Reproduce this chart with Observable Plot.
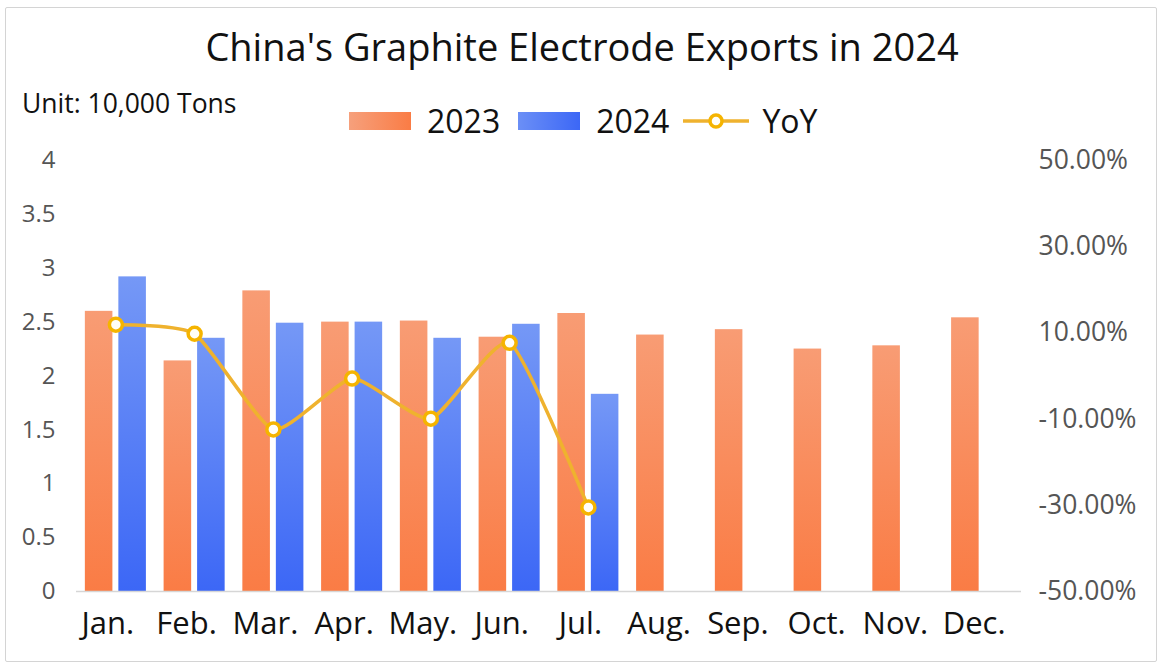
<!DOCTYPE html>
<html>
<head>
<meta charset="utf-8">
<script src="https://cdn.jsdelivr.net/npm/d3@7"></script>
<script src="https://cdn.jsdelivr.net/npm/@observablehq/plot@0.6"></script>
<style>
  html, body { margin: 0; padding: 0; background: #fff; }
  body { font-family: "Open Sans", "Noto Sans", sans-serif; }
  #frame { position: relative; width: 1164px; height: 671px; overflow: hidden; background: #fff; }
  #border { position: absolute; left: 5px; top: 7px; width: 1152px; height: 655px; border: 1.5px solid #d4d4d4; box-sizing: border-box; border-radius: 2px; }
  #title { position: absolute; left: 0; width: 1164px; top: 21px; text-align: center; font-size: 38px; color: #111; line-height: 50px; }
  #unit { position: absolute; left: 22px; top: 86px; font-size: 26.5px; color: #111; line-height: 34px; }
  #legend { position: absolute; left: 349px; top: 100px; display: flex; align-items: center; font-size: 32px; color: #111; line-height: 42px; }
  .sw { width: 62px; height: 18px; }
  .lab { margin-left: 16px; margin-right: 18px; }
  #chart { position: absolute; left: 0; top: 140px; }
</style>
</head>
<body>
<div id="frame">
  <div id="border"></div>
  <div id="title">China's Graphite Electrode Exports in 2024</div>
  <div id="unit">Unit: 10,000 Tons</div>
  <div id="legend"></div>
  <div id="chart"></div>
</div>
<script>
// ---- data ----
const months = ["Jan.", "Feb.", "Mar.", "Apr.", "May.", "Jun.", "Jul.", "Aug.", "Sep.", "Oct.", "Nov.", "Dec."];
const exports2023 = [2.60, 2.14, 2.79, 2.50, 2.51, 2.36, 2.58, 2.38, 2.43, 2.25, 2.28, 2.54];
const exports2024 = [2.92, 2.35, 2.49, 2.50, 2.35, 2.48, 1.83];
const yoyPct = [11.9, 9.8, -12.4, -0.6, -9.9, 7.7, -30.5];
const leftTicks = [0, 0.5, 1, 1.5, 2, 2.5, 3, 3.5, 4];
const rightTickPct = [-50, -30, -10, 10, 30, 50];
const seriesNames = ["2023", "2024", "YoY"];

// ---- build tables ----
const rows2023 = exports2023.map((v, i) => ({month: months[i], value: v}));
const rows2024 = exports2024.map((v, i) => ({month: months[i], value: v}));
const rowsYoY = yoyPct.map((v, i) => ({month: months[i], pct: v}));

// map right axis (-50%..50%) onto left scale (0..4)
const pctToLeft = p => (p + 50) / 100 * 4;
const leftToPct = v => v / 4 * 100 - 50;

const colors = {c23: "#fa7c45", c24: "#3c67f6", yoy: "#efb22e", dot: "#f5b400"};

const plot = Plot.plot({
  width: 1164,
  height: 520,
  marginTop: 20,
  marginBottom: 69,
  marginLeft: 76,
  marginRight: 143,
  style: {fontFamily: "'Open Sans', 'Noto Sans', sans-serif", background: "transparent"},
  x: {type: "band", domain: months, paddingInner: 0, paddingOuter: 0, round: false},
  y: {domain: [0, 4]},
  marks: [
    Plot.barY(rows2023, {x: "month", y: "value", fill: "url(#g23)", insetLeft: 25.6, insetRight: 25.6, dx: -16.75}),
    Plot.barY(rows2024, {x: "month", y: "value", fill: "url(#g24)", insetLeft: 25.6, insetRight: 25.6, dx: 16.75}),
    Plot.ruleY([0], {stroke: "#d6d6d6", strokeWidth: 1.5}),
    Plot.line(rowsYoY, {x: "month", y: d => pctToLeft(d.pct), curve: "cardinal", tension: 0.45, stroke: colors.yoy, strokeWidth: 3.5}),
    Plot.dot(rowsYoY, {x: "month", y: d => pctToLeft(d.pct), r: 6.5, fill: "#fffef8", stroke: colors.dot, strokeWidth: 3.5}),
    Plot.axisY({anchor: "left", ticks: leftTicks, tickFormat: d => String(d), tickSize: 0, tickPadding: 21, fontSize: 24, fill: "#555", label: null}),
    Plot.axisY({anchor: "right", ticks: rightTickPct.map(pctToLeft), tickFormat: v => leftToPct(v).toFixed(2) + "%", tickSize: 0, tickPadding: 17, fontSize: 26.5, fill: "#555", label: null}),
    Plot.axisX({tickSize: 0, tickPadding: 20, fontSize: 31, fill: "#111", dx: -8, label: null})
  ]
});

// gradients for the bars
const svg = d3.select(plot);
const defs = svg.insert("defs", ":first-child");
function grad(id, top, bottom) {
  const g = defs.append("linearGradient").attr("id", id).attr("x1", 0).attr("y1", 0).attr("x2", 0).attr("y2", 1);
  g.append("stop").attr("offset", 0).attr("stop-color", top);
  g.append("stop").attr("offset", 1).attr("stop-color", bottom);
}
grad("g23", "#f89c74", colors.c23);
grad("g24", "#7598f6", colors.c24);
document.getElementById("chart").appendChild(plot);

// legend
const legend = document.getElementById("legend");
legend.innerHTML = `
  <div class="sw" style="background:linear-gradient(90deg,#f6a07c,${colors.c23})"></div><span class="lab">${seriesNames[0]}</span>
  <div class="sw" style="background:linear-gradient(90deg,#6b8ff6,${colors.c24})"></div><span class="lab">${seriesNames[1]}</span>
  <svg width="66" height="20" style="margin-left:-4px"><line x1="0" y1="10" x2="66" y2="10" stroke="${colors.yoy}" stroke-width="3.5"/><circle cx="33" cy="10" r="6" fill="#fffef8" stroke="${colors.dot}" stroke-width="3.5"/></svg><span class="lab" style="margin-left:13px">${seriesNames[2]}</span>`;
</script>
</body>
</html>
